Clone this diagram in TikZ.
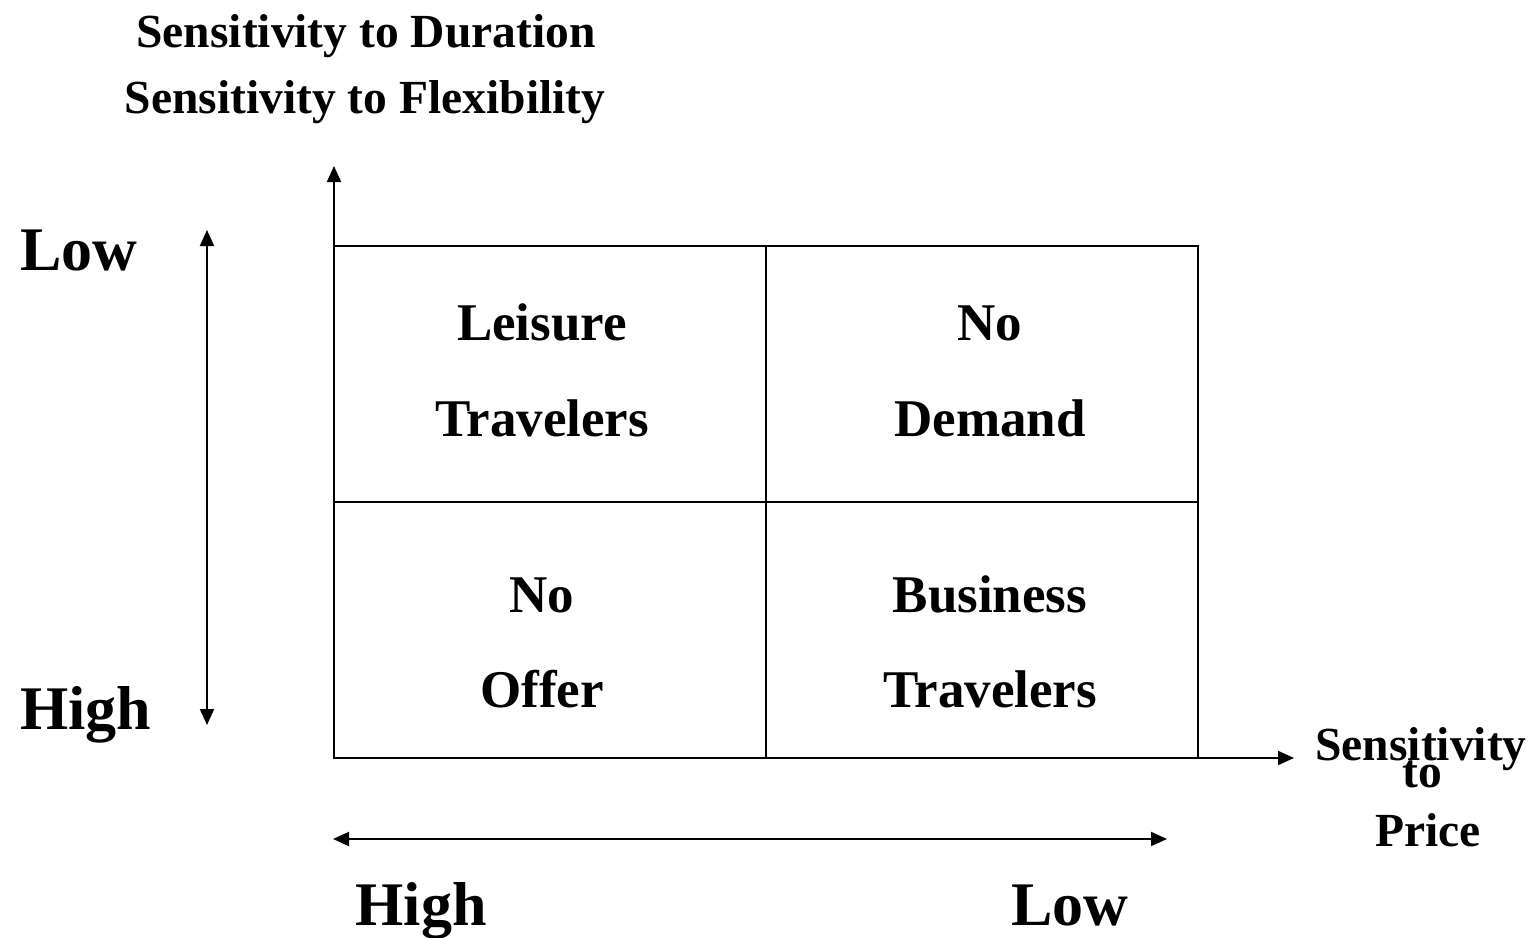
\documentclass[tikz,border=0pt]{standalone}
\usepackage{fontspec}
\setmainfont{Liberation Serif}
\usetikzlibrary{arrows.meta}
\begin{document}
\begin{tikzpicture}[x=1pt,y=-1pt,
  lbl/.style={anchor=base,inner sep=0pt,font=\bfseries\fontsize{47.5}{57}\selectfont},
  cell/.style={anchor=base,inner sep=0pt,font=\bfseries\fontsize{53}{64}\selectfont},
  big/.style={anchor=base,inner sep=0pt,font=\bfseries\fontsize{62}{74}\selectfont},
  grid/.style={line width=1.8pt},
  axis/.style={line width=2pt,-{Triangle[length=16pt,width=14pt]}},
  dbl/.style={line width=2pt,{Triangle[length=16pt,width=14pt]}-{Triangle[length=16pt,width=14pt]}}]
\useasboundingbox (0,0) rectangle (1533,937);
% grid
\coordinate (tl) at (334,246);
\coordinate (br) at (1198,758);
\coordinate (o) at (334,758);
\draw[grid] (tl) rectangle (br);
\draw[grid] (766,246) -- (766,758);
\draw[grid] (334,502) -- (1198,502);
% axes
\coordinate (ytip) at (334,166);
\coordinate (xtip) at (1294,758);
\draw[axis] (o) -- (ytip);
\draw[axis] (br) -- (xtip);
% side arrows
\coordinate (la1) at (207,230);
\coordinate (la2) at (207,725);
\draw[dbl] (la1) -- (la2);
\coordinate (ba1) at (333,839);
\coordinate (ba2) at (1167,839);
\draw[dbl] (ba1) -- (ba2);
% titles
\node[lbl] (t1) at (366,47) {Sensitivity to Duration};
\node[lbl] (t2) at (365,113) {Sensitivity to Flexibility};
\node[lbl] (s1) at (1421,760) {Sensitivity};
\node[lbl] (s2) at (1422,787) {to};
\node[lbl] (s3) at (1428,846) {Price};
% level labels
\node[big,anchor=base west] (lowL) at (20,270) {Low};
\node[big,anchor=base west] (highL) at (20,729) {High};
\node[big] (highB) at (421,925) {High};
\node[big] (lowB) at (1070,925) {Low};
% cells
\node[cell] (c11) at (542,340) {Leisure};
\node[cell] (c12) at (542,436) {Travelers};
\node[cell] (c21) at (990,340) {No};
\node[cell] (c22) at (990,436) {Demand};
\node[cell] (c31) at (542,612) {No};
\node[cell] (c32) at (542,707) {Offer};
\node[cell] (c41) at (990,612) {Business};
\node[cell] (c42) at (990,707) {Travelers};
\end{tikzpicture}
\end{document}
